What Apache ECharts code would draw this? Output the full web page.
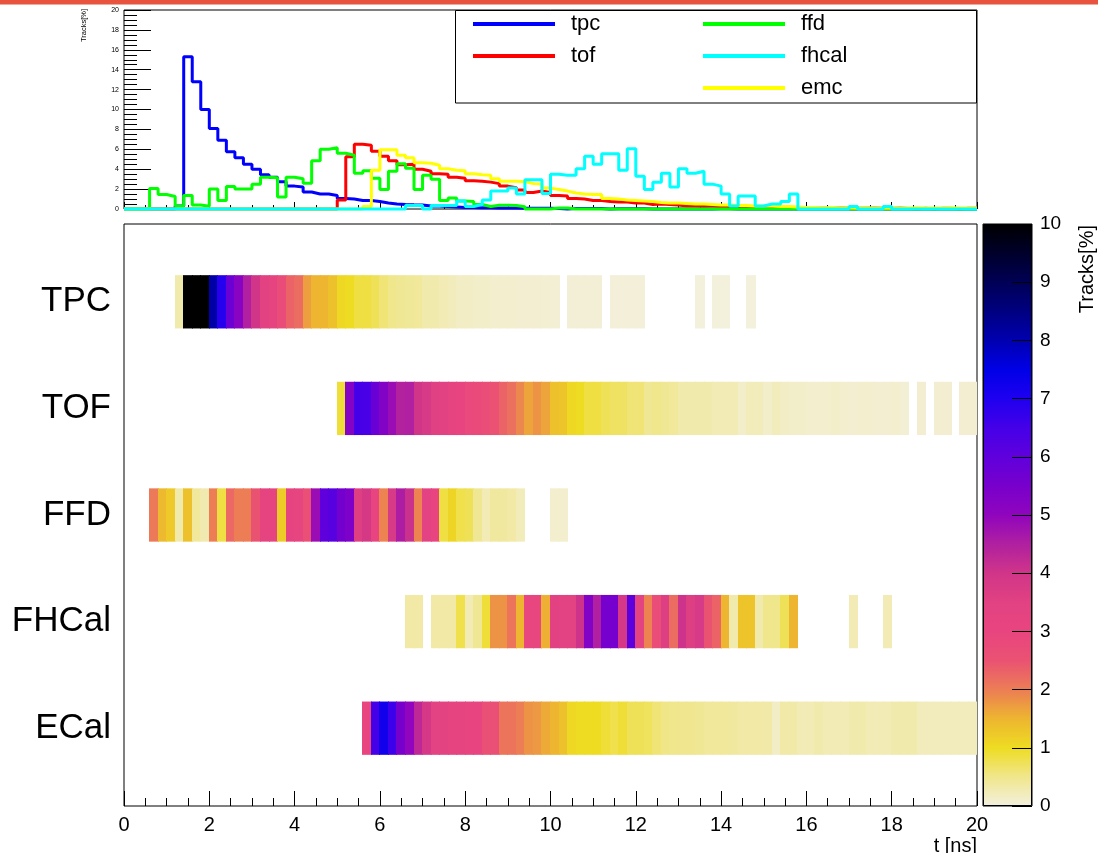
<!DOCTYPE html>
<html>
<head>
<meta charset="utf-8">
<script src="https://cdn.jsdelivr.net/npm/echarts@6/dist/echarts.min.js"></script>
<style>
  html, body { margin: 0; padding: 0; background: #fff; }
  #mainEchart { width: 1098px; height: 853px; }
</style>
</head>
<body>
<div id="mainEchart"></div>
<script>
  // time bins: 100 bins of 0.2 ns from 0 to 20 ns
  var binWidth = 0.2;
  var tMax = 20;

  // histograms (top pad), Tracks[%] per bin
  var tpc = [
    0, 0, 0, 0, 0, 0, 0.3, 15.3, 12.8, 10.0,
    8.1, 6.9, 5.75, 5.15, 4.5, 4.0, 3.45, 3.2, 2.75, 2.3,
    2.2, 1.7, 1.5, 1.5, 1.35, 1.05, 1.0, 0.85, 0.85, 0.75,
    0.6, 0.5, 0.45, 0.42, 0.4, 0.3, 0.3, 0.25, 0.2, 0.15,
    0.15, 0.12, 0.12, 0.1, 0.1, 0.1, 0.08, 0.08, 0.08, 0.07,
    0.06, 0, 0.04, 0.04, 0.04, 0.04, 0, 0.03, 0.03, 0.03,
    0.03, 0, 0, 0, 0, 0, 0, 0.02, 0, 0.02,
    0.02, 0, 0, 0.02, 0, 0, 0, 0, 0, 0,
    0, 0, 0, 0, 0, 0, 0, 0, 0, 0,
    0, 0, 0, 0, 0, 0, 0, 0, 0, 0
  ];
  var tof = [
    0, 0, 0, 0, 0, 0, 0, 0, 0, 0,
    0, 0, 0, 0, 0, 0, 0, 0, 0, 0,
    0, 0, 0, 0, 0, 0.9, 5.25, 6.5, 6.4, 5.8,
    5.3, 4.85, 4.45, 4.5, 4.0, 3.8, 3.55, 3.5, 3.2, 3.1,
    2.85, 2.8, 2.7, 2.55, 2.3, 2.15, 1.9, 1.65, 1.8, 1.65,
    1.35, 1.3, 1.05, 1.0, 0.85, 0.85, 0.75, 0.7, 0.7, 0.6,
    0.6, 0.45, 0.5, 0.45, 0.4, 0.3, 0.3, 0.3, 0.3, 0.25,
    0.25, 0.25, 0.12, 0.22, 0.22, 0.12, 0.2, 0.15, 0.12, 0.12,
    0.1, 0.1, 0.1, 0.12, 0.1, 0.08, 0.1, 0.1, 0.08, 0.08,
    0.1, 0.06, 0, 0.08, 0, 0.08, 0.08, 0, 0.08, 0.08
  ];
  var ffd = [
    0, 0, 0, 2.05, 1.45, 1.25, 0.3, 1.35, 0.4, 0.28,
    2.0, 0.85, 2.25, 2.0, 2.0, 2.5, 3.2, 3.15, 1.2, 3.2,
    3.05, 2.6, 4.85, 6.0, 6.15, 5.6, 5.4, 3.6, 3.85, 3.1,
    1.95, 3.8, 4.55, 4.1, 1.95, 3.4, 3.0, 0.85, 1.1, 0.8,
    0.75, 0.45, 0.25, 0.38, 0.38, 0.35, 0.22, 0, 0, 0,
    0.1, 0.1, 0, 0, 0, 0, 0, 0, 0, 0,
    0, 0, 0, 0, 0, 0, 0, 0, 0, 0,
    0, 0, 0, 0, 0, 0, 0, 0, 0, 0,
    0, 0, 0, 0, 0, 0, 0, 0, 0, 0,
    0, 0, 0, 0, 0, 0, 0, 0, 0, 0
  ];
  var fhcal = [
    0, 0, 0, 0, 0, 0, 0, 0, 0, 0,
    0, 0, 0, 0, 0, 0, 0, 0, 0, 0,
    0, 0, 0, 0, 0, 0, 0, 0, 0, 0,
    0, 0, 0, 0.35, 0.35, 0, 0.35, 0.35, 0.35, 0.8,
    0.25, 0.45, 0.9, 1.8, 1.8, 2.1, 1.5, 2.95, 2.95, 1.55,
    3.5, 3.4, 3.4, 4.05, 5.3, 4.5, 5.55, 5.55, 3.9, 6.05,
    3.3, 1.95, 2.7, 3.6, 2.2, 4.05, 3.6, 3.8, 2.5, 2.3,
    1.5, 0.3, 1.3, 1.3, 0.3, 0.5, 0.5, 0.75, 1.5, 0,
    0, 0, 0, 0, 0, 0.25, 0, 0, 0, 0.25,
    0, 0, 0, 0, 0, 0, 0, 0, 0, 0
  ];
  var emc = [
    0, 0, 0, 0, 0, 0, 0, 0, 0, 0,
    0, 0, 0, 0, 0, 0, 0, 0, 0, 0,
    0, 0, 0, 0, 0, 0, 0, 0, 0.25, 3.9,
    5.95, 5.95, 5.4, 5.15, 4.65, 4.6, 4.4, 4.05, 3.9, 3.85,
    3.55, 3.45, 3.4, 3.05, 2.8, 2.8, 2.75, 2.55, 2.5, 2.1,
    1.95, 1.8, 1.6, 1.5, 1.45, 1.45, 1.05, 1.0, 0.9, 0.85,
    0.8, 0.75, 0.65, 0.6, 0.6, 0.55, 0.5, 0.5, 0.45, 0.4,
    0.4, 0.35, 0.35, 0.3, 0.3, 0.3, 0.25, 0.25, 0.2, 0.15,
    0.15, 0.12, 0.15, 0.12, 0.12, 0.1, 0.12, 0.1, 0.1, 0.12,
    0.1, 0.1, 0.12, 0.1, 0.1, 0.1, 0.12, 0.1, 0.1, 0.1
  ];
  // ECal row of the map (differs from the emc histogram)
  var ecal = [
    0, 0, 0, 0, 0, 0, 0, 0, 0, 0,
    0, 0, 0, 0, 0, 0, 0, 0, 0, 0,
    0, 0, 0, 0, 0, 0, 0, 0, 3.0, 6.5,
    7.2, 6.6, 5.5, 5.0, 4.3, 3.9, 3.4, 3.3, 3.2, 3.2,
    3.1, 3.0, 2.6, 2.6, 2.1, 2.1, 2.0, 1.8, 1.75, 1.6,
    1.5, 1.35, 1.05, 1.0, 1.0, 1.0, 0.9, 0.8, 0.9, 0.75,
    0.75, 0.72, 0.6, 0.52, 0.5, 0.48, 0.48, 0.45, 0.4, 0.4,
    0.4, 0.38, 0.35, 0.35, 0.35, 0.33, 0.15, 0.33, 0.33, 0.25,
    0.25, 0.3, 0.25, 0.25, 0.25, 0.3, 0.3, 0.25, 0.25, 0.25,
    0.3, 0.3, 0.3, 0.2, 0.2, 0.2, 0.2, 0.2, 0.2, 0.2
  ];

  // map rows, bottom to top
  var rowNames = ['ECal', 'FHCal', 'FFD', 'TOF', 'TPC'];
  var rowData = [ecal, fhcal, ffd, tof, tpc];

  // palette of the colour scale, 0 .. 10 in steps of 0.5
  var palette = [
    '#f3f0de', '#f0e68c', '#eedc22', '#edb530', '#ec7d55', '#ea5272', '#e84580',
    '#e24282', '#d03588', '#b020a0', '#9005bd', '#7800cc', '#5f00dc', '#4500e8',
    '#1e00f0', '#0000e6', '#0000b0', '#000080', '#000055', '#00002a', '#000000'
  ];

  var font = 'Liberation Sans, Arial, sans-serif';

  function steps(arr) {
    var d = arr.map(function (v, i) { return [+(i * binWidth).toFixed(1), v]; });
    d.push([tMax, arr[arr.length - 1]]);
    return d;
  }

  var cells = [];
  rowData.forEach(function (arr, r) {
    arr.forEach(function (v, i) {
      if (v > 0) cells.push([+(i * binWidth).toFixed(1), r, v]);
    });
  });

  function histSeries(name, arr, color) {
    return {
      name: name, type: 'line', step: 'end', xAxisIndex: 0, yAxisIndex: 0,
      showSymbol: false, clip: false, data: steps(arr),
      lineStyle: { color: color, width: 3 }, itemStyle: { color: color }
    };
  }

  var legendCommon = {
    orient: 'vertical', icon: 'rect', itemWidth: 82, itemHeight: 4, itemGap: 10,
    padding: 0, selectedMode: false, z: 5,
    textStyle: { fontSize: 22, lineHeight: 22, color: '#000', fontFamily: font, padding: [0, 0, 0, 11] }
  };

  var option = {
    animation: false,
    textStyle: { fontFamily: font },
    grid: [
      { left: 124, top: 10, width: 853, height: 199, show: true, borderColor: '#000', borderWidth: 1, backgroundColor: 'transparent' },
      { left: 124, top: 224, width: 853, height: 582, show: true, borderColor: '#000', borderWidth: 1, backgroundColor: 'transparent' },
      { left: 983, top: 224, width: 49, height: 582, show: true, borderColor: '#000', borderWidth: 1, backgroundColor: 'transparent' }
    ],
    legend: [
      Object.assign({ data: ['tpc', 'tof'], left: 473, top: 13 }, legendCommon),
      Object.assign({ data: ['ffd', 'fhcal', 'emc'], left: 703, top: 13 }, legendCommon)
    ],
    visualMap: {
      type: 'continuous', min: 0, max: 10, dimension: 2, seriesIndex: 5,
      left: 983, top: 224, itemWidth: 49, itemHeight: 582, padding: 0,
      calculable: false, hoverLink: false, showLabel: false,
      inRange: { color: palette }
    },
    xAxis: [
      {
        gridIndex: 0, type: 'value', min: 0, max: tMax, interval: 2,
        axisLine: { show: false, onZero: false }, axisLabel: { show: false }, splitLine: { show: false },
        axisTick: { inside: true, length: 7, lineStyle: { color: '#000' } },
        minorTick: { show: true, splitNumber: 4, length: 4, lineStyle: { color: '#000' } }
      },
      {
        gridIndex: 1, type: 'value', min: 0, max: tMax, interval: 2,
        axisLine: { show: false, onZero: false }, splitLine: { show: false },
        axisLabel: { fontSize: 20, color: '#000', margin: 9 },
        axisTick: { inside: true, length: 15, lineStyle: { color: '#000' } },
        minorTick: { show: true, splitNumber: 4, length: 8, lineStyle: { color: '#000' } }
      },
      { gridIndex: 2, type: 'value', min: 0, max: 1, show: false }
    ],
    yAxis: [
      {
        gridIndex: 0, type: 'value', min: 0, max: 20, interval: 2,
        axisLine: { show: false, onZero: false }, splitLine: { show: false },
        axisLabel: { fontSize: 7, color: '#000', margin: 5 },
        axisTick: { inside: true, length: 27, lineStyle: { color: '#000' } },
        minorTick: { show: true, splitNumber: 4, length: 13, lineStyle: { color: '#000' } }
      },
      {
        gridIndex: 1, type: 'value', min: -0.73, max: 4.73,
        axisLine: { show: false, onZero: false }, splitLine: { show: false }, axisTick: { show: false },
        axisLabel: {
          customValues: [0, 1, 2, 3, 4], fontSize: 35, color: '#000', margin: 13,
          formatter: function (v) { return rowNames[Math.round(v)]; }
        }
      },
      {
        gridIndex: 2, type: 'value', position: 'right', min: 0, max: 10, interval: 1, z: 10,
        axisLine: { show: false, onZero: false }, splitLine: { show: false },
        axisLabel: { fontSize: 19, color: '#000', margin: 8 },
        axisTick: { inside: true, length: 20, lineStyle: { color: '#000' } }
      }
    ],
    graphic: [
      { type: 'rect', shape: { x: 0, y: 0, width: 1098, height: 4 }, style: { fill: '#e8533f' } },
      { type: 'rect', shape: { x: 0, y: 4, width: 1098, height: 1 }, style: { fill: '#f3a89c' } },
      { type: 'rect', z: 3, shape: { x: 455.5, y: 10.5, width: 521, height: 92.5 }, style: { fill: '#fff', stroke: '#000', lineWidth: 1 } },
      {
        type: 'text', x: 83.5, y: 9, rotation: Math.PI / 2,
        style: { text: 'Tracks[%]', fill: '#000', font: '7.5px ' + font, textAlign: 'right', textVerticalAlign: 'middle', align: 'right', verticalAlign: 'middle' }
      },
      {
        type: 'text', x: 1087, y: 225, rotation: Math.PI / 2,
        style: { text: 'Tracks[%]', fill: '#000', font: '20px ' + font, textAlign: 'right', textVerticalAlign: 'middle', align: 'right', verticalAlign: 'middle' }
      },
      {
        type: 'text', x: 977, y: 846,
        style: { text: 't [ns]', fill: '#000', font: '20px ' + font, textAlign: 'right', textVerticalAlign: 'middle', align: 'right', verticalAlign: 'middle' }
      },
      { type: 'rect', z: 10, shape: { x: 983.5, y: 224.5, width: 48, height: 581 }, style: { fill: 'none', stroke: '#000', lineWidth: 1 } }
    ],
    series: [
      histSeries('tpc', tpc, '#0000ff'),
      histSeries('tof', tof, '#ff0000'),
      histSeries('ffd', ffd, '#00ff00'),
      histSeries('emc', emc, '#ffff00'),
      histSeries('fhcal', fhcal, '#00ffff'),
      {
        name: 'map', type: 'custom', xAxisIndex: 1, yAxisIndex: 1,
        encode: { x: 0, y: 1 },
        data: cells,
        renderItem: function (params, api) {
          var p0 = api.coord([api.value(0), api.value(1) + 0.25]);
          var p1 = api.coord([api.value(0) + binWidth, api.value(1) - 0.25]);
          var x0 = Math.floor(p0[0]);
          return {
            type: 'rect',
            shape: { x: x0, y: p0[1], width: Math.ceil(p1[0]) - x0, height: p1[1] - p0[1] },
            style: { fill: api.visual('color') }
          };
        }
      }
    ]
  };

  var myEcharts = echarts.init(document.getElementById('mainEchart'));
  myEcharts.setOption(option);
</script>
</body>
</html>
